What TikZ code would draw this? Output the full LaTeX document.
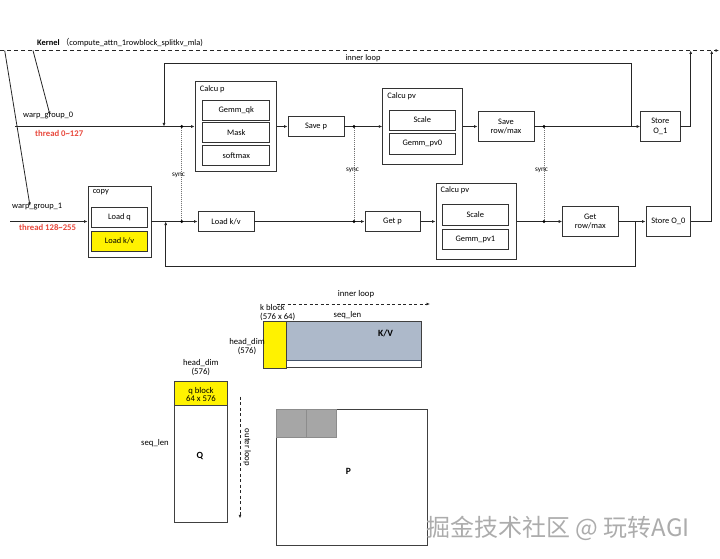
\documentclass[tikz,border=0pt]{standalone}
\usepackage{fontspec}
\setmainfont{Carlito}
\newfontfamily\cjk{Noto Sans CJK SC}
\usetikzlibrary{arrows.meta}
\definecolor{threadred}{RGB}{232,72,60}
\definecolor{kvgray}{RGB}{173,185,202}
\definecolor{kvline}{RGB}{68,84,106}
\definecolor{blockgray}{RGB}{166,166,166}
\begin{document}
\begin{tikzpicture}[x=1pt,y=-1pt,
  every node/.style={font=\fontsize{8.4}{9.8}\selectfont, inner sep=0pt},
  box/.style={draw=black!80, line width=0.9pt, fill=white, align=center},
  ttl/.style={anchor=north west},
  arr/.style={-{Latex[length=3.5pt,width=3pt]}, line width=0.8pt, draw=black!85},
  syncline/.style={densely dotted, line width=1pt, draw=black!55},
  tag/.style={anchor=west, font=\fontsize{8.7}{10}\selectfont\bfseries, text=threadred},
  big/.style={font=\fontsize{8.7}{8.9}\selectfont, align=center},
  mat/.style={font=\fontsize{9.5}{10}\selectfont\bfseries}]
\useasboundingbox (0,0) rectangle (720,559);

\node[anchor=west] (kernel) at (37,43) {\textbf{Kernel}\,{\cjk （}compute\_attn\_1rowblock\_splitkv\_mla)};
\coordinate (kl) at (0,50.5); \coordinate (kr) at (719,50.5);
\draw[arr, dash pattern=on 4pt off 3pt] (kl) -- (kr);
\coordinate (ka) at (4.7,50.5); \coordinate (wa) at (30,206);
\coordinate (kb) at (33,50.5); \coordinate (wb) at (50,115);

\node[anchor=west] (wg0) at (23,115) {warp\_group\_0};
\node[anchor=west] (wg1) at (12,207) {warp\_group\_1};
\node[tag] (th0) at (35,133) {thread 0\textasciitilde127};
\node[tag] (th1) at (19,227) {thread 128\textasciitilde255};
\draw[arr] (ka) -- (wa);
\draw[arr] (kb) -- (wb);

\node[box, minimum width=81.7, minimum height=90] (calcp) at (235.9,126.5) {};
\node[ttl] (calcpl) at ([shift={(5,4)}]calcp.north west) {Calcu p};
\node[box, minimum width=67, minimum height=20] (gemmqk) at (236.3,110) {Gemm\_qk};
\node[box, minimum width=67, minimum height=20] (mask) at (236.3,132.7) {Mask};
\node[box, minimum width=67, minimum height=20] (softmax) at (236.3,155.7) {softmax};
\node[box, minimum width=56, minimum height=20] (savep) at (316,126.5) {Save p};
\node[box, minimum width=80, minimum height=76] (calcpv0) at (422.7,126.5) {};
\node[ttl] (calcpv0l) at ([shift={(5,4)}]calcpv0.north west) {Calcu pv};
\node[box, minimum width=66.7, minimum height=20] (scale0) at (422.3,120) {Scale};
\node[box, minimum width=66.7, minimum height=21] (gemmpv0) at (422.3,143.5) {Gemm\_pv0};
\node[box, minimum width=56, minimum height=30] (saverm) at (506,126.5) {Save\\row/max};
\node[box, minimum width=39.3, minimum height=30] (storeo1) at (660.3,126.5) {Store\\O\_1};

\node[box, minimum width=63, minimum height=71] (copy) at (119.5,221.5) {};
\node[ttl] (copyl) at ([shift={(5,4)}]copy.north west) {copy};
\node[box, minimum width=56, minimum height=20] (loadq) at (119.5,217) {Load q};
\node[box, fill=yellow, minimum width=56, minimum height=20] (loadkv0) at (119.5,241) {Load k/v};
\node[box, minimum width=56, minimum height=20] (loadkv) at (226,221.5) {Load k/v};
\node[box, minimum width=55, minimum height=20] (getp) at (392.5,221.5) {Get p};
\node[box, minimum width=80.7, minimum height=76.7] (calcpv1) at (476.3,221.5) {};
\node[ttl] (calcpv1l) at ([shift={(5,4)}]calcpv1.north west) {Calcu pv};
\node[box, minimum width=65.3, minimum height=21] (scale1) at (475.3,214.5) {Scale};
\node[box, minimum width=65.3, minimum height=20] (gemmpv1) at (475.3,239) {Gemm\_pv1};
\node[box, minimum width=55.3, minimum height=30] (getrm) at (590.3,221.5) {Get\\row/max};
\node[box, minimum width=44.7, minimum height=30] (storeo0) at (668.3,221.5) {Store O\_0};

\coordinate (w0) at (15,126.5); \coordinate (w1) at (10,221.5);
\coordinate (s0) at (181.7,126.5); \coordinate (s1) at (181.7,221.5);
\coordinate (s2) at (354,126.5); \coordinate (s3) at (354,221.5);
\coordinate (s4) at (544,126.5); \coordinate (s5) at (544,221.5);
\draw[arr] (w0) -- (calcp.west);
\draw[arr] (calcp.east) -- (savep.west);
\draw[arr] (savep.east) -- (calcpv0.west);
\draw[arr] (calcpv0.east) -- (saverm.west);
\draw[arr] (saverm.east) -- (storeo1.west);
\draw[arr] (w1) -- (copy.west);
\draw[arr] (copy.east) -- (loadkv.west);
\draw[arr] (loadkv.east) -- (getp.west);
\draw[arr] (getp.east) -- (calcpv1.west);
\draw[arr] (calcpv1.east) -- (getrm.west);
\draw[arr] (getrm.east) -- (storeo0.west);

\coordinate (j0) at (631.7,126.5); \coordinate (lt) at (164,63); \coordinate (lp0) at (164,126.5);
\draw[arr] (j0) |- (lt) -- (lp0);
\node[anchor=south] (innerloop) at (363,62) {inner loop};
\coordinate (j1) at (635,221.5); \coordinate (lb) at (165.7,266.7); \coordinate (lp1) at (165.7,221.5);
\draw[arr] (j1) |- (lb) -- (lp1);
\coordinate (k0) at (690.7,50.5); \coordinate (k1) at (711.7,50.5);
\draw[arr] (storeo1.east) -| (k0);
\draw[arr] (storeo0.east) -| (k1);

\draw[syncline] (s0) -- (s1);
\draw[syncline] (s2) -- (s3);
\draw[syncline] (s4) -- (s5);
\foreach \s in {s0,s1,s2,s3,s4,s5} \fill[black] (\s) circle (1.6pt);
\node[font=\fontsize{7.2}{8}\selectfont] (sync0) at (178.5,175) {sync};
\node[font=\fontsize{7.2}{8}\selectfont] (sync1) at (352.5,170) {sync};
\node[font=\fontsize{7.2}{8}\selectfont] (sync2) at (541.5,170) {sync};

\node[big] (inner2) at (356,294) {inner loop};
\coordinate (ia) at (276.7,304); \coordinate (ib) at (430,304);
\draw[arr, dash pattern=on 3pt off 2.5pt] (ia) -- (ib);
\node[big, anchor=west, align=left] (kblock) at (260,313) {k block\\(576 x 64)};
\node[big] (seqk) at (347.5,314.7) {seq\_len};
\fill[kvgray] (286.7,321.7) rectangle (421.7,360);
\draw[kvline, line width=0.9pt] (286.7,360) -- (421.7,360);
\draw[black!75, line width=0.9pt] (263.3,321.7) rectangle (421.7,367.7);
\draw[black!75, line width=0.9pt, fill=yellow] (263.3,321.7) rectangle (286.7,368);
\node[mat] (kv) at (385.5,333) {K/V};
\node[big] (hdk) at (247,347) {head\_dim\\(576)};

\node[big] (hdq) at (200.8,367.5) {head\_dim\\(576)};
\draw[black!75, line width=0.9pt] (174.3,381.7) rectangle (227.7,522.3);
\draw[black!75, line width=0.9pt, fill=yellow] (174.3,381.7) rectangle (227.7,405.7);
\node[big] (qblock) at (201,394.5) {q block\\64 x 576};
\node[big] (seqq) at (155,443) {seq\_len};
\node[mat] (q) at (200,456) {Q};
\coordinate (oa) at (240,396.7); \coordinate (ob) at (240,518.3);
\draw[arr, dash pattern=on 3pt off 2.5pt] (oa) -- (ob);
\node[big, rotate=-90] (outer) at (247.3,447.5) {outer loop};

\draw[black!75, line width=0.9pt] (276.7,409.3) rectangle (427.3,545.7);
\draw[black!45, line width=0.6pt, fill=blockgray] (276.7,409.3) rectangle (306,437.3);
\draw[black!45, line width=0.6pt, fill=blockgray] (306,409.3) rectangle (336.7,437.3);
\node[mat] (p) at (348.3,471) {P};

\node[anchor=west, font=\cjk\fontsize{24}{24}\selectfont, text=gray!65] (wm) at (426,528) {掘金技术社区 @ 玩转AGI};
\end{tikzpicture}
\end{document}
